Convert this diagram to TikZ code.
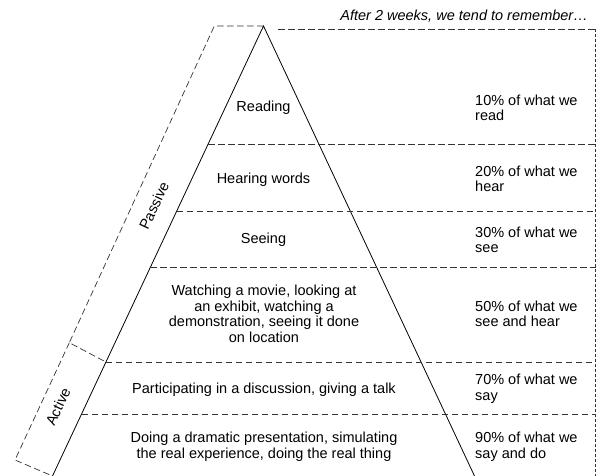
\documentclass[tikz,border=0pt]{standalone}
\usepackage{fontspec}
\setmainfont{Liberation Sans}
\usepackage{tikz}
\usetikzlibrary{positioning}
\tikzstyle{edge} = [draw, line width=0.8pt]
\tikzstyle{guide} = [draw, line width=0.7pt, dash pattern=on 6.5bp off 3.5bp, black!80]
\tikzstyle{frame} = [draw, line width=0.7pt, dash pattern=on 3bp off 2bp, black!80]
\tikzstyle{level} = [align=center, inner sep=0]
\tikzstyle{share} = [align=left, anchor=west, inner sep=0]
\tikzstyle{side} = [rotate=64.9, inner sep=0]

\begin{document}
\begin{tikzpicture}[x=1bp, y=-1bp, font=\fontsize{14.5bp}{15.6bp}\selectfont]
\useasboundingbox (0,0) rectangle (597,476);

% pyramid
\coordinate (apex) at (263.5,26);
\coordinate (bl) at (52.5,476);
\coordinate (br) at (474.5,476);
\path [edge] (bl) -- (apex) -- (br);

% level lines
\coordinate (l1) at (208.2,144);
\coordinate (l2) at (176.8,211);
\coordinate (l3) at (150.3,267.5);
\coordinate (l4) at (105.9,362);
\coordinate (l5) at (81.6,414);
\path [guide] (l1) -- (595.5,144);
\path [guide] (l2) -- (595.5,211);
\path [guide] (l3) -- (595.5,267.5);
\path [guide] (l4) -- (595.5,362);
\path [guide] (l5) -- (595.5,414);

% right frame
\coordinate (tr) at (595.5,29.3);
\path [guide] (278,29.3) -- (tr);
\path [frame] (tr) -- (595.5,476);

% brackets
\coordinate (pt) at (214.3,26);
\coordinate (mid) at (69.3,342.7);
\coordinate (ab) at (15,460);
\path [guide] (apex) -- (pt) -- (mid) -- (l4);
\path [guide] (mid) -- (ab) -- (bl);

\node [side] (passive) at (154,205.7) {Passive};
\node [side] (active) at (58,406.7) {Active};

% levels
\node [level] (reading) at (263.5,107.7) {Reading};
\node [level] (hearing) at (263.5,180) {Hearing words};
\node [level] (seeing) at (263.5,240) {Seeing};
\node [level] (watching) at (264,314) {Watching a movie, looking at\\an exhibit, watching a\\demonstration, seeing it done\\on location};
\node [level] (discuss) at (264,390) {Participating in a discussion, giving a talk};
\node [level] (doing) at (264,446.5) {Doing a dramatic presentation, simulating\\the real experience, doing the real thing};

% retention
\node [share] (p10) at (475,107.7) {10\% of what we\\read};
\node [share] (p20) at (475,178.7) {20\% of what we\\hear};
\node [share] (p30) at (475,240) {30\% of what we\\see};
\node [share] (p50) at (475,314) {50\% of what we\\see and hear};
\node [share] (p70) at (475,389) {70\% of what we\\say};
\node [share] (p90) at (475,446.5) {90\% of what we\\say and do};

\node [anchor=base east, inner sep=0, font=\fontsize{14.5bp}{15.6bp}\selectfont\itshape] (title) at (588,20.7) {After 2 weeks, we tend to remember…};

\end{tikzpicture}
\end{document}
